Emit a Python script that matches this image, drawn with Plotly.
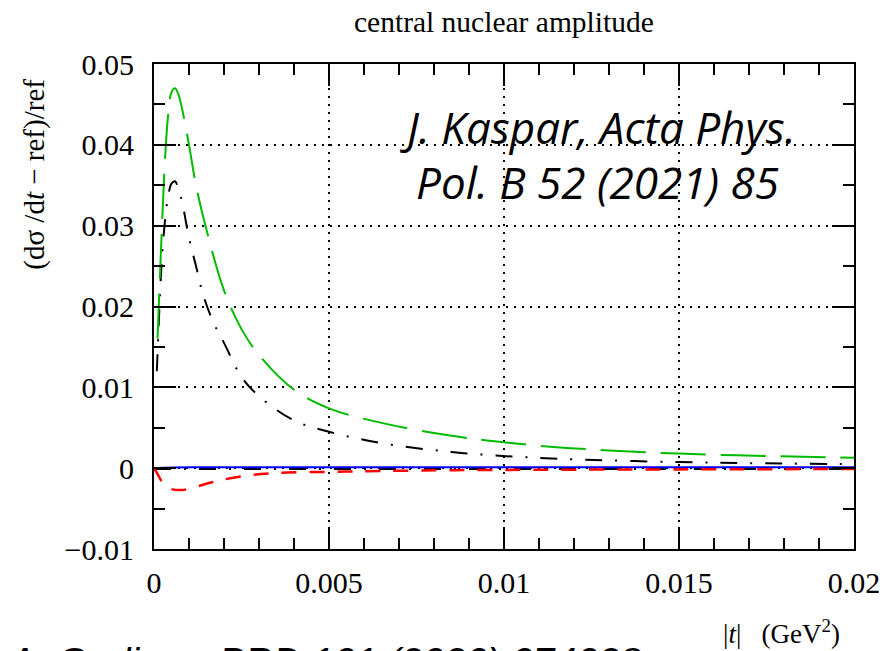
import plotly.graph_objects as go

# ---- data ----
t_green = [0.0001, 0.0002, 0.0003, 0.0004, 0.0005, 0.0006, 0.0007, 0.0008, 0.001, 0.0012,
           0.0015, 0.002, 0.0025, 0.003, 0.004, 0.005, 0.0065, 0.0085, 0.01, 0.0115,
           0.013, 0.015, 0.0175, 0.02]
v_green = [0.016, 0.027, 0.037, 0.0435, 0.0465, 0.0470, 0.0462, 0.0445, 0.0400, 0.0350,
           0.0295, 0.0220, 0.0172, 0.0140, 0.0097, 0.0074, 0.0056, 0.0040, 0.0032, 0.0026,
           0.0022, 0.0018, 0.0015, 0.0013]

t_black = [0.00008, 0.0001, 0.0002, 0.0003, 0.0004, 0.0005, 0.0006, 0.0007, 0.0008, 0.001,
           0.0012, 0.0014, 0.0017, 0.002, 0.0025, 0.003, 0.004, 0.005, 0.0065, 0.0085,
           0.0104, 0.012, 0.015, 0.0175, 0.02]
v_black = [0.012, 0.014, 0.024, 0.030, 0.0335, 0.0352, 0.0355, 0.0345, 0.0330, 0.0285,
           0.0250, 0.0215, 0.0180, 0.0155, 0.0113, 0.0089, 0.0059, 0.0045, 0.0031, 0.0020,
           0.0014, 0.0011, 0.00075, 0.0006, 0.0005]

t_black0 = [0.0, 0.005, 0.01, 0.015, 0.02]
v_black0 = [-0.0001, -0.0001, -0.0001, -0.0001, -0.0001]

t_red = [0.0, 0.0001, 0.0002, 0.0003, 0.0005, 0.0008, 0.0012, 0.0016, 0.002, 0.0027,
         0.0035, 0.005, 0.0065, 0.0085, 0.011, 0.015, 0.02]
v_red = [0.0, -0.0007, -0.0015, -0.0021, -0.0026, -0.0027, -0.0023, -0.0018, -0.0014, -0.0009,
         -0.0006, -0.00045, -0.00035, -0.00025, -0.0002, -0.00015, -0.0001]

t_blue = [0.0, 0.001, 0.003, 0.005, 0.01, 0.015, 0.02]
v_blue = [0.0, 0.0001, 0.00012, 0.00012, 0.0001, 0.0001, 0.0001]

x_ticks = [0, 0.005, 0.01, 0.015, 0.02]
x_ticklabels = ["0", "0.005", "0.01", "0.015", "0.02"]
y_ticks = [-0.01, 0, 0.01, 0.02, 0.03, 0.04, 0.05]
y_ticklabels = ["\u22120.01", "0", "0.01", "0.02", "0.03", "0.04", "0.05"]

title_text = "central nuclear amplitude"
y_title = "(d\u03c3 /d<i>t</i> \u2212 ref)/ref"
x_title = "|<i>t</i>|   (GeV<sup>2</sup>)"
wm1 = "J. Kaspar, Acta Phys."
wm2 = "Pol. B 52 (2021) 85"
wm3 = "A. Godizov, PRD 101 (2020) 074028"

SERIF = "Liberation Serif"

fig = go.Figure()
fig.add_trace(go.Scatter(x=t_black0, y=v_black0, mode="lines",
                         line=dict(color="black", width=2, dash="17px,13px,2px,13px")))
fig.add_trace(go.Scatter(x=t_blue, y=v_blue, mode="lines",
                         line=dict(color="#0000ff", width=2, shape="spline")))
fig.add_trace(go.Scatter(x=t_red, y=v_red, mode="lines",
                         line=dict(color="#ff0000", width=2.5, dash="15px,13px", shape="spline")))
fig.add_trace(go.Scatter(x=t_black, y=v_black, mode="lines",
                         line=dict(color="black", width=2, dash="17px,13px,2px,13px", shape="spline")))
fig.add_trace(go.Scatter(x=t_green, y=v_green, mode="lines",
                         line=dict(color="#00bb00", width=2, dash="45px,15px", shape="spline")))

tick_font = dict(family=SERIF, size=30, color="black")
axis_common = dict(
    showline=True, linecolor="black", linewidth=2, mirror="allticks",
    ticks="inside", ticklen=22, tickwidth=2, tickcolor="black",
    showgrid=True, gridcolor="black", gridwidth=1.5, griddash="2px,6px",
    zeroline=False, automargin=False,
)

fig.update_xaxes(range=[0, 0.02], tickmode="array", tickvals=x_ticks, ticktext=x_ticklabels,
                 tickfont=tick_font,
                 minor=dict(dtick=0.001, ticks="inside", ticklen=11, tickwidth=2,
                            tickcolor="black", showgrid=False),
                 ticklabelstandoff=6, **axis_common)
fig.update_yaxes(range=[-0.01, 0.05], tickmode="array", tickvals=y_ticks, ticktext=y_ticklabels,
                 tickfont=tick_font,
                 minor=dict(dtick=0.005, ticks="inside", ticklen=11, tickwidth=2,
                            tickcolor="black", showgrid=False),
                 ticklabelstandoff=12, **axis_common)

fig.update_layout(
    width=883, height=651,
    margin=dict(l=154, r=29, t=64, b=102),
    paper_bgcolor="white", plot_bgcolor="white",
    showlegend=False,
    font=dict(family=SERIF, size=30, color="black"),
)

fig.add_annotation(text=title_text, xref="paper", yref="paper", x=0.5, y=1.0866,
                   xanchor="center", yanchor="middle", showarrow=False,
                   font=dict(family=SERIF, size=29.5, color="black"))
fig.add_annotation(text=y_title, xref="paper", yref="paper", x=-0.172, y=0.773,
                   xanchor="center", yanchor="middle", textangle=-90, showarrow=False,
                   font=dict(family=SERIF, size=29, color="black"))
fig.add_annotation(text=x_title, xref="paper", yref="paper", x=0.897, y=-0.171,
                   xanchor="center", yanchor="middle", showarrow=False,
                   font=dict(family=SERIF, size=27, color="black"))
fig.add_annotation(text="<i>" + wm1 + "</i>", xref="paper", yref="paper", x=0.634, y=0.870,
                   xanchor="center", yanchor="middle", showarrow=False,
                   font=dict(family="Open Sans", size=44, color="black"))
fig.add_annotation(text="<i>" + wm2 + "</i>", xref="paper", yref="paper", x=0.634, y=0.756,
                   xanchor="center", yanchor="middle", showarrow=False,
                   font=dict(family="Open Sans", size=44, color="black"))
fig.add_annotation(text="<i>" + wm3 + "</i>", xref="paper", yref="paper", x=-0.213, y=-0.183,
                   xanchor="left", yanchor="top", showarrow=False,
                   font=dict(family="Liberation Sans", size=39, color="black"))

fig.write_html("out.html")
